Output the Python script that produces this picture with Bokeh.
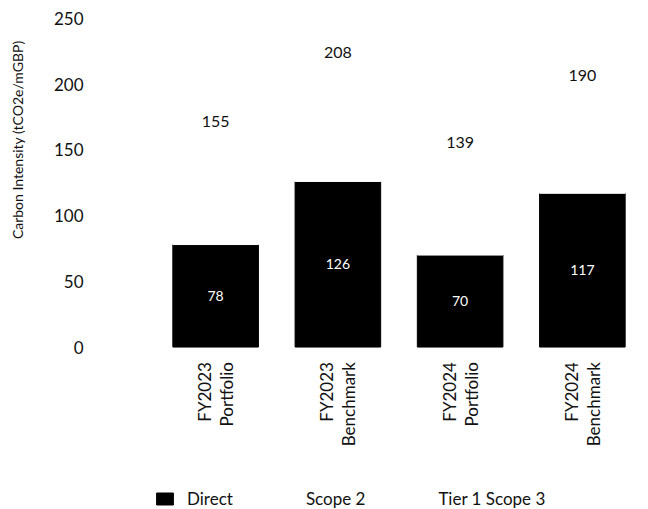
import math
from bokeh.plotting import figure
from bokeh.models import (ColumnDataSource, FactorRange, Range1d, Legend, LegendItem,
                          Title, LabelSet, FixedTicker)
from bokeh.core.properties import value
from bokeh.embed import file_html
from bokeh.resources import INLINE

# ---- data ----
years = ["FY2023", "FY2023", "FY2024", "FY2024"]
kinds = ["Portfolio", "Benchmark", "Portfolio", "Benchmark"]
categories = [f"{y}\n{k}" for y, k in zip(years, kinds)]
direct = [78, 126, 70, 117]
scope2 = [12, 14, 10, 13]          # not visible in the picture (white), estimated split
totals = [155, 208, 139, 190]
tier1_scope3 = [t - d - s for t, d, s in zip(totals, direct, scope2)]
y_ticks = [0, 50, 100, 150, 200, 250]
series = ["Direct", "Scope 2", "Tier 1 Scope 3"]
y_title = "Carbon Intensity (tCO2e/mGBP)"

FONT = "Lato"
Y_MIN = -123.6   # empty room below the baseline for category labels and legend

src = ColumnDataSource(dict(
    cat=categories,
    year=years,
    kind=kinds,
    Direct=direct,
    **{"Scope 2": scope2, "Tier 1 Scope 3": tier1_scope3},
    total=totals,
    base=[0] * len(categories),
    direct_mid=[d / 2 for d in direct],
    direct_lbl=[str(d) for d in direct],
    total_lbl=[str(t) for t in totals],
))

p = figure(x_range=FactorRange(*categories), y_range=Range1d(Y_MIN, 250),
           frame_width=489, frame_height=491, output_backend="svg", toolbar_location=None,
           x_axis_location=None,
           min_border_left=154, min_border_right=5, min_border_top=18,
           min_border_bottom=0)
p.title.visible = False

rs = p.vbar_stack(series, x="cat", width=0.7, source=src,
                  color=["#000000", "#ffffff", "#ffffff"])

# value labels
p.add_layout(LabelSet(x="cat", y="direct_mid", text="direct_lbl", source=src,
                      text_align="center", text_baseline="middle", text_color="white",
                      text_font=value(FONT), text_font_size="14px"))
p.add_layout(LabelSet(x="cat", y="total", text="total_lbl", source=src,
                      text_align="center", text_baseline="bottom", y_offset=16,
                      text_color="#111111", text_font=value(FONT), text_font_size="16px"))

# category labels under the bars (rotated, two lines, each ending at the top)
for field, dx in (("year", -11), ("kind", 11)):
    p.add_layout(LabelSet(x="cat", y="base", text=field, source=src,
                          angle=math.pi / 2, text_align="right", text_baseline="middle",
                          x_offset=dx, y_offset=-15,
                          text_color="#111111", text_font=value(FONT),
                          text_font_size="17px"))

p.xgrid.visible = False
p.ygrid.visible = False
p.outline_line_color = None

ax = p.yaxis[0]
ax.axis_line_color = None
ax.major_tick_line_color = None
ax.minor_tick_line_color = None
ax.major_tick_out = 0
ax.major_tick_in = 0
ax.major_label_text_font = FONT
ax.major_label_text_color = "#111111"
ax.ticker = FixedTicker(ticks=y_ticks)
ax.major_label_standoff = 71
ax.major_label_text_font_size = "17px"
# spacer so the rotated axis title sits further out, as in the original
ax.axis_label = "\u200b"
ax.axis_label_text_font_size = "1px"
ax.axis_label_standoff = 19

ylab = Title(text=y_title, align="right", offset=22,
             text_font=FONT, text_font_size="14px", text_font_style="normal",
             text_color="#111111", standoff=4)
p.add_layout(ylab, "left")

legend = Legend(items=[LegendItem(label=s, renderers=[r]) for s, r in zip(series, rs)],
                orientation="horizontal", location=(0, 0),
                glyph_width=21, glyph_height=15, label_standoff=12, spacing=40,
                padding=0, margin=0, border_line_color=None, background_fill_alpha=0,
                label_text_font=FONT, label_text_font_size="17px",
                label_text_color="#111111")
p.add_layout(legend, "center")

open("out.html", "w").write(file_html(p, INLINE))
